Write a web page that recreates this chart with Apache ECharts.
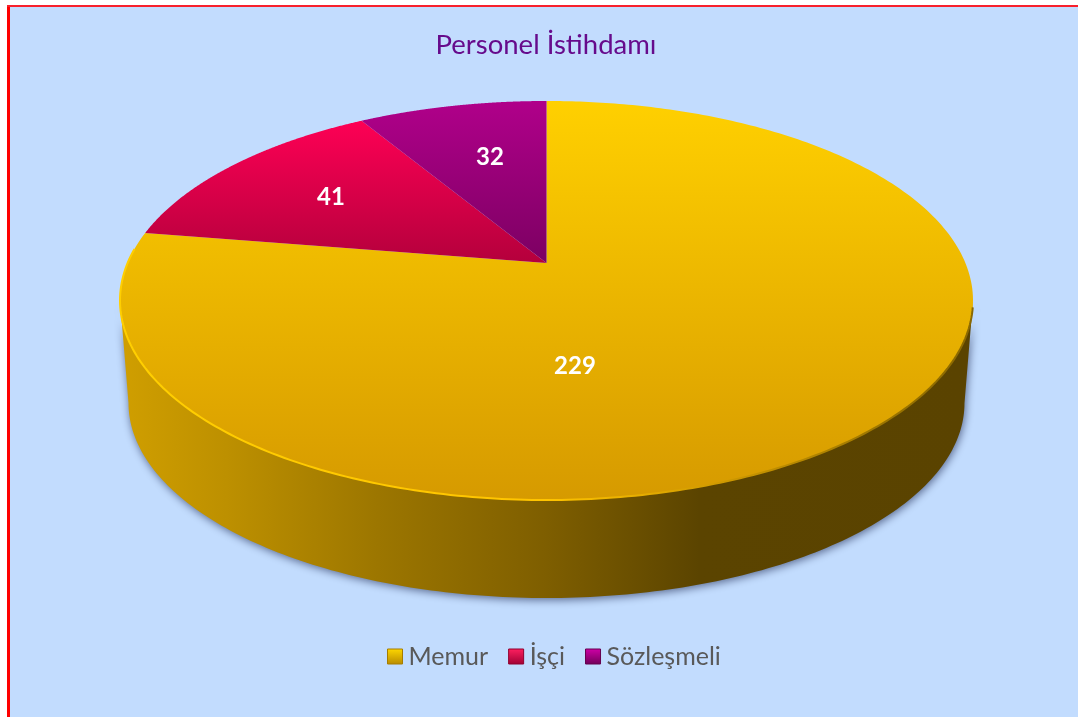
<!DOCTYPE html>
<html><head><meta charset="utf-8">
<style>html,body{margin:0;padding:0;background:#fff}#c{width:1078px;height:717px}</style>
<script src="https://cdn.jsdelivr.net/npm/echarts@6/dist/echarts.min.js"></script>
</head><body><div id="c"></div>
<script>
var categories = ['Memur', 'İşçi', 'Sözleşmeli'];
var values = [229, 41, 32];
var titleText = 'Personel İstihdamı';

var FONT = 'Lato, Carlito, "Open Sans", sans-serif';
var APEX = [546.5, 263], CX = 546.5, CY = 300.5, RX = 426.5, RY = 199.5;
var BOTTOM_CY = 403, BOTTOM_RX = 418, BOTTOM_RY = 195;
var WARP_C = 0.745, WARP_P = 1.115;
var labelAnchors = [[575, 366], [331, 197], [490, 157]];
var topStops = [
  [[0, '#ffd000'], [1, '#d69a00'], 101, 500],
  [[0, '#ff0055'], [1, '#b4003c'], 118, 263],
  [[0, '#b0008a'], [1, '#7c0062'], 101, 263]
];
var total = values.reduce(function (a, b) { return a + b; }, 0);
var R = Math.PI / 180;

function warpHalf(t) { return t <= 0 ? 0 : t >= 180 ? 180 : 2 * Math.atan(WARP_C * Math.pow(Math.tan(t * R / 2), WARP_P)) / R; }
function warp(t) { return t <= 180 ? warpHalf(t) : 360 - warpHalf(360 - t); }
function rim(deg, cy, rx, ry) { return [CX + rx * Math.sin(deg * R), cy - ry * Math.cos(deg * R)]; }
function vGrad(s) { return new echarts.graphic.LinearGradient(0, s[2], 0, s[3], [{ offset: 0, color: s[0][1] }, { offset: 1, color: s[1][1] }], true); }
function hGrad(x0, x1, stops) { return new echarts.graphic.LinearGradient(x0, 0, x1, 0, stops.map(function (p) { return { offset: p[0], color: p[1] }; }), true); }

function wallElement() {
  var pts = [], d;
  for (d = 90; d <= 270; d += 1) pts.push(rim(d, CY, RX, RY));
  for (d = 270; d >= 90; d -= 1) pts.push(rim(d, BOTTOM_CY, BOTTOM_RX, BOTTOM_RY));
  return {
    type: 'polygon', shape: { points: pts },
    style: {
      fill: hGrad(125, 970, [[0, '#cf9e00'], [0.12, '#bd9000'], [0.3, '#9c7600'], [0.5, '#7e5e00'], [0.68, '#5b4400'], [1, '#5a4300']]),
      shadowBlur: 9, shadowColor: 'rgba(20,30,70,0.6)', shadowOffsetX: 1, shadowOffsetY: 2
    }
  };
}
function rimElement() {
  var pts = [], d;
  for (d = 285; d >= 92; d -= 1) pts.push(rim(d, CY, RX, RY));
  return {
    type: 'polyline', shape: { points: pts },
    style: {
      fill: null, lineWidth: 2,
      stroke: hGrad(120, 973, [[0, '#ffcf00'], [0.5, '#ffc400'], [0.7, '#d09a00'], [0.9, '#9a7400'], [1, '#8a6800']])
    }
  };
}
function renderSlice(index, params, api) {
  var before = 0;
  for (var i = 0; i < index; i++) before += values[i];
  var v = api.value(0);
  var a0 = before / total * 360, a1 = (before + v) / total * 360;
  var pts = [APEX], n = 300;
  for (var k = 0; k <= n; k++) pts.push(rim(warp(a0 + (a1 - a0) * k / n), CY, RX, RY));
  var kids = [];
  if (index === 0) kids.push(wallElement());
  kids.push({ type: 'polygon', shape: { points: pts }, style: { fill: vGrad(topStops[index]) } });
  if (index === 0) kids.push(rimElement());
  kids.push({
    type: 'text', z2: 50,
    style: { x: labelAnchors[index][0], y: labelAnchors[index][1], text: String(v), fill: '#fff', font: 'bold 24px ' + FONT, align: 'center', verticalAlign: 'middle' }
  });
  return { type: 'group', children: kids };
}

var chart = echarts.init(document.getElementById('c'), null, { renderer: 'canvas' });
var legendGrad = [['#ffd800', '#b88a00'], ['#ff2060', '#a00034'], ['#d000a8', '#700058']];
var legendEdge = ['#a67c00', '#8f002e', '#65004f'];
chart.setOption({
  animation: false,
  title: { text: titleText, left: 541, top: 26, textAlign: 'center', textStyle: { color: '#660b8c', fontFamily: FONT, fontSize: 27.5, fontWeight: 'normal' } },
  graphic: [
    { type: 'rect', z: -10, shape: { x: 7, y: 5, width: 1071, height: 712 }, style: { fill: '#c2dcfe' } },
    { type: 'rect', z: -9, shape: { x: 7, y: 5, width: 3, height: 712 }, style: { fill: '#ff0000' } },
    { type: 'rect', z: -9, shape: { x: 7, y: 5, width: 1071, height: 2 }, style: { fill: '#f8202c' } }
  ],
  legend: {
    left: 382, top: 639, itemWidth: 15, itemHeight: 15, itemGap: 20, icon: 'rect',
    data: categories.map(function (c, i) {
      return { name: c, itemStyle: { borderColor: legendEdge[i], borderWidth: 1, color: new echarts.graphic.LinearGradient(0, 0, 0, 1, [{ offset: 0, color: legendGrad[i][0] }, { offset: 1, color: legendGrad[i][1] }]) } };
    }),
    textStyle: { color: '#595959', fontFamily: FONT, fontSize: 25, padding: [0, 0, 0, 1] }, selectedMode: false
  },
  series: categories.map(function (c, i) {
    return {
      type: 'custom', name: c, coordinateSystem: 'none', z: 2 + i,
      data: [[values[i]]], renderItem: function (p, api) { return renderSlice(i, p, api); },
      itemStyle: { color: topStops[i][0][1] }, silent: true
    };
  })
});
</script></body></html>
